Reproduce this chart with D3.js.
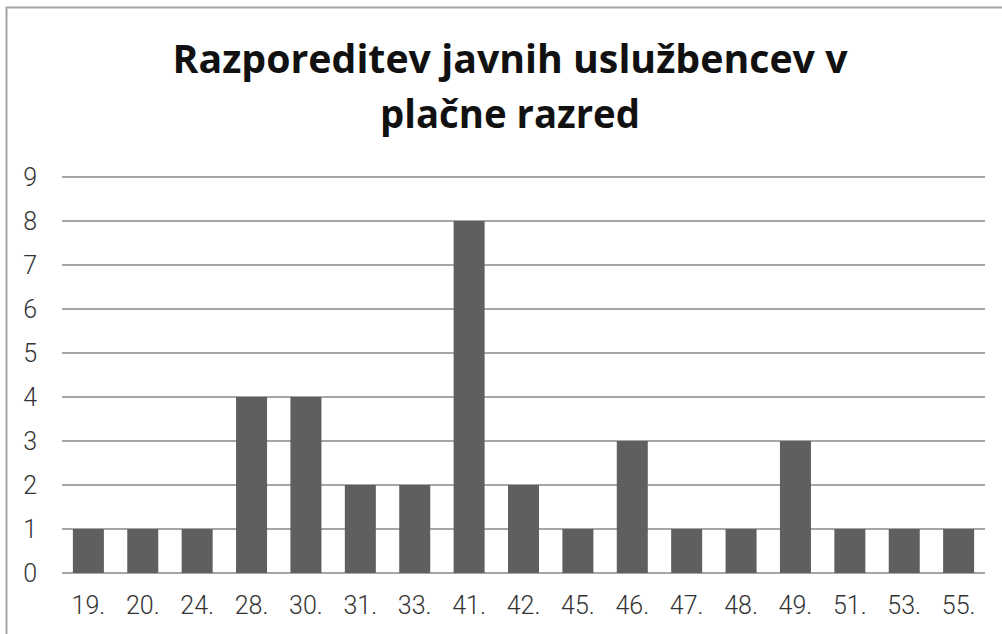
<!DOCTYPE html>
<html>
<head>
<meta charset="utf-8">
<script src="https://cdn.jsdelivr.net/npm/d3@7"></script>
<style>
  body { margin: 0; background: #fff; }
  svg { display: block; }
</style>
</head>
<body>
<svg id="chart" width="1002" height="634"></svg>
<script>
// data
const razredi = ['19.', '20.', '24.', '28.', '30.', '31.', '33.', '41.', '42.', '45.', '46.', '47.', '48.', '49.', '51.', '53.', '55.'];
const stevilo = [1, 1, 1, 4, 4, 2, 2, 8, 2, 1, 3, 1, 1, 3, 1, 1, 1];
const yTicks = [0, 1, 2, 3, 4, 5, 6, 7, 8, 9];
const naslov = ['Razporeditev javnih uslužbencev v', 'plačne razred'];

const svg = d3.select('#chart');

// outer frame (cut off on right and bottom like the screenshot)
svg.append('rect')
    .attr('x', 6.5).attr('y', 7.5)
    .attr('width', 1010).attr('height', 650)
    .attr('fill', '#fff')
    .attr('stroke', '#a6a6a6')
    .attr('stroke-width', 2);

const plotLeft = 62, plotRight = 985, plotTop = 177, plotBottom = 573;

const x = d3.scaleBand()
    .domain(razredi)
    .range([plotLeft, plotRight])
    .paddingInner(0.43)
    .paddingOuter(0.2);

const y = d3.scaleLinear()
    .domain([0, 9])
    .range([plotBottom, plotTop]);

// gridlines
svg.append('g')
    .selectAll('line')
    .data(yTicks)
    .enter()
    .append('line')
    .attr('x1', plotLeft)
    .attr('x2', plotRight)
    .attr('y1', d => y(d))
    .attr('y2', d => y(d))
    .attr('stroke', '#a6a6a6')
    .attr('stroke-width', 2);

// bars
svg.append('g')
    .selectAll('rect')
    .data(razredi)
    .enter()
    .append('rect')
    .attr('x', d => x(d))
    .attr('y', (d, i) => y(stevilo[i]))
    .attr('width', x.bandwidth())
    .attr('height', (d, i) => y(0) - y(stevilo[i]))
    .attr('fill', '#5f5e61');

// y axis labels
const yAxis = d3.axisLeft(y).tickValues(yTicks).tickSize(0).tickPadding(0);
const gy = svg.append('g')
    .attr('transform', `translate(37,0)`)
    .call(yAxis);
gy.select('.domain').remove();
gy.selectAll('text')
    .attr('font-family', 'Roboto, "Open Sans", sans-serif')
    .attr('font-weight', 300)
    .attr('font-size', 25)
    .attr('fill', '#333');

// x axis labels
const xAxis = d3.axisBottom(x).tickSize(0).tickPadding(0);
const gx = svg.append('g')
    .attr('transform', `translate(0,${plotBottom + 23})`)
    .call(xAxis);
gx.select('.domain').remove();
gx.selectAll('text')
    .attr('font-family', 'Roboto, "Open Sans", sans-serif')
    .attr('font-weight', 300)
    .attr('font-size', 25)
    .attr('fill', '#333');

// title, squeezed horizontally to the narrower original face
const titleWidths = [675, 260];
const title = svg.append('text')
    .attr('text-anchor', 'middle')
    .attr('font-family', '"Open Sans", sans-serif')
    .attr('font-weight', 700)
    .attr('font-size', 40)
    .attr('fill', '#111');
title.selectAll('tspan')
    .data(naslov)
    .enter()
    .append('tspan')
    .attr('x', 510)
    .attr('y', (d, i) => 73 + i * 55)
    .attr('textLength', (d, i) => titleWidths[i])
    .attr('lengthAdjust', 'spacingAndGlyphs')
    .text(d => d);
</script>
</body>
</html>
